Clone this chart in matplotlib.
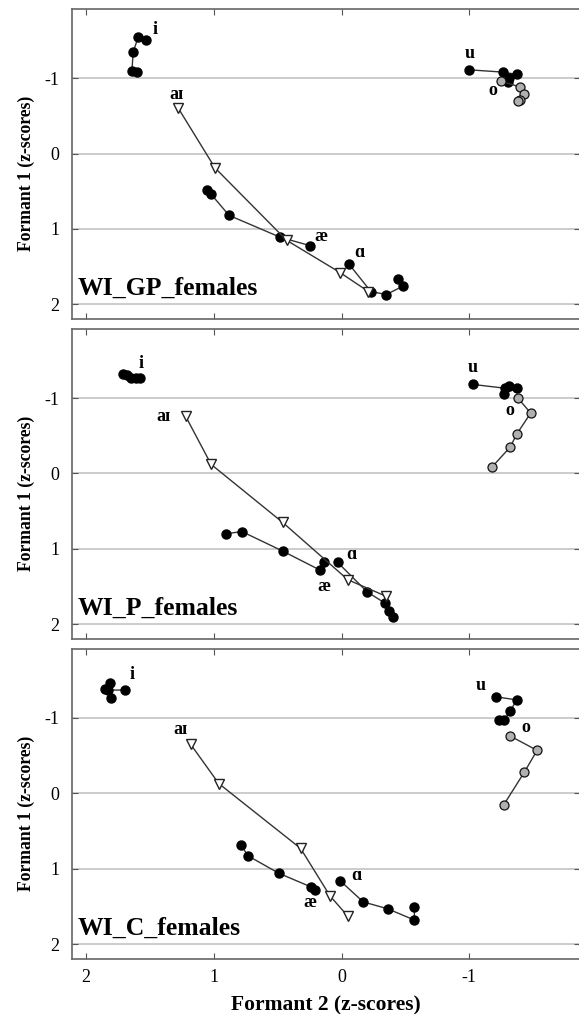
import matplotlib
matplotlib.use("Agg")
import matplotlib.pyplot as plt

plt.rcParams['font.family'] = ['Liberation Serif', 'DejaVu Serif']
plt.rcParams['axes.unicode_minus'] = False

# Formant trajectories: (F2 z-scores, F1 z-scores), five time points per vowel
panel_names = ['WI_GP_females', 'WI_P_females', 'WI_C_females']

gp = {
    'i':  ([1.53, 1.59, 1.63, 1.64, 1.60], [-1.51, -1.55, -1.34, -1.09, -1.08]),
    'aɪ': ([1.28, 0.99, 0.43, 0.01, -0.21], [-0.61, 0.19, 1.15, 1.58, 1.83]),
    'æ':  ([1.05, 1.02, 0.88, 0.48, 0.25], [0.49, 0.54, 0.82, 1.11, 1.22]),
    'ɑ':  ([-0.06, -0.23, -0.35, -0.48, -0.44], [1.47, 1.83, 1.87, 1.76, 1.66]),
    'u':  ([-1.00, -1.26, -1.37, -1.31, -1.30], [-1.11, -1.08, -1.05, -1.00, -0.95]),
    'o':  ([-1.25, -1.40, -1.43, -1.40, -1.38], [-0.96, -0.88, -0.79, -0.71, -0.69]),
}
p = {
    'i':  ([1.71, 1.68, 1.65, 1.61, 1.58], [-1.32, -1.30, -1.27, -1.26, -1.26]),
    'aɪ': ([1.22, 1.02, 0.46, -0.05, -0.35], [-0.76, -0.12, 0.65, 1.41, 1.63]),
    'æ':  ([0.90, 0.78, 0.46, 0.17, 0.14], [0.80, 0.77, 1.03, 1.28, 1.18]),
    'ɑ':  ([0.03, -0.20, -0.34, -0.37, -0.40], [1.18, 1.57, 1.72, 1.83, 1.91]),
    'u':  ([-1.03, -1.28, -1.31, -1.37, -1.27], [-1.18, -1.13, -1.16, -1.13, -1.06]),
    'o':  ([-1.38, -1.48, -1.37, -1.32, -1.18], [-1.00, -0.80, -0.52, -0.35, -0.09]),
}
c = {
    'i':  ([1.81, 1.85, 1.80, 1.83, 1.69], [-1.46, -1.38, -1.26, -1.37, -1.37]),
    'aɪ': ([1.18, 0.96, 0.32, 0.09, -0.05], [-0.65, -0.13, 0.73, 1.36, 1.63]),
    'æ':  ([0.79, 0.73, 0.49, 0.24, 0.21], [0.68, 0.83, 1.06, 1.24, 1.28]),
    'ɑ':  ([0.01, -0.17, -0.36, -0.57, -0.57], [1.16, 1.44, 1.53, 1.68, 1.51]),
    'u':  ([-1.21, -1.37, -1.32, -1.27, -1.23], [-1.28, -1.24, -1.09, -0.97, -0.97]),
    'o':  ([-1.32, -1.53, -1.43, -1.27], [-0.76, -0.57, -0.28, 0.15]),
}

# vowel label positions (F2, F1) per panel
gp_labels = {'i': (1.46, -1.64), 'aɪ': (1.29, -0.78), 'æ': (0.16, 1.10),
             'ɑ': (-0.14, 1.31), 'u': (-1.00, -1.33), 'o': (-1.18, -0.83)}
p_labels = {'i': (1.57, -1.46), 'aɪ': (1.39, -0.76), 'æ': (0.14, 1.50),
            'ɑ': (-0.08, 1.08), 'u': (-1.03, -1.40), 'o': (-1.32, -0.83)}
c_labels = {'i': (1.64, -1.58), 'aɪ': (1.26, -0.85), 'æ': (0.25, 1.45),
            'ɑ': (-0.12, 1.09), 'u': (-1.09, -1.43), 'o': (-1.44, -0.87)}

x_ticks = [2, 1, 0, -1]
y_ticks = [-1, 0, 1, 2]

panels = [(gp, gp_labels), (p, p_labels), (c, c_labels)]

fig = plt.figure(figsize=(5.79, 10.14), dpi=100)
bottoms = [0.685, 0.3695, 0.054]

for k, ((data, labels), name) in enumerate(zip(panels, panel_names)):
    ax = fig.add_axes([0.124, bottoms[k], 0.878, 0.306])
    for y in y_ticks:
        ax.axhline(y, color='#cccccc', lw=1.4, zorder=0)

    for vowel, (f2, f1) in data.items():
        if vowel == 'aɪ':
            ax.plot(f2, f1, color='#333333', lw=1, marker='v', ms=6.5,
                    mfc='white', mec='#222222', mew=1, zorder=3)
        elif vowel == 'o':
            ax.plot(f2, f1, color='#333333', lw=1, marker='o', ms=6.5,
                    mfc='#b0b0b0', mec='#111111', mew=0.9, zorder=2)
        else:
            ax.plot(f2, f1, color='#333333', lw=1, marker='o', ms=6.5,
                    mfc='black', mec='black', zorder=2)
        lx, ly = labels[vowel]
        ax.text(lx, ly, vowel, fontsize=13, fontweight='bold',
                ha='center', va='center', zorder=4)

    ax.text(0.012, 0.10, name, transform=ax.transAxes, fontsize=18.5,
            fontweight='bold', ha='left', va='center')

    ax.set_xlim(2.11, -1.867)
    ax.set_ylim(2.2, -1.915)
    ax.set_xticks(x_ticks)
    ax.set_yticks(y_ticks)
    ax.tick_params(direction='in', length=4, top=True, right=True,
                   color='#555555', labelsize=13)
    ax.tick_params(axis='y', pad=9)
    ax.tick_params(axis='x', pad=7)
    if k < 2:
        ax.tick_params(axis='x', labelbottom=False)
    for s in ax.spines.values():
        s.set_color('#666666')
        s.set_linewidth(1.2)
    ax.set_ylabel('Formant 1 (z-scores)', fontsize=12.7, fontweight='bold')
    ax.yaxis.set_label_coords(-0.072, 0.47)

fig.text(326 / 579, 1 - 1005 / 1014, 'Formant 2 (z-scores)', fontsize=15.5,
         fontweight='bold', ha='center', va='center')

fig.savefig('out.png', dpi=100)
